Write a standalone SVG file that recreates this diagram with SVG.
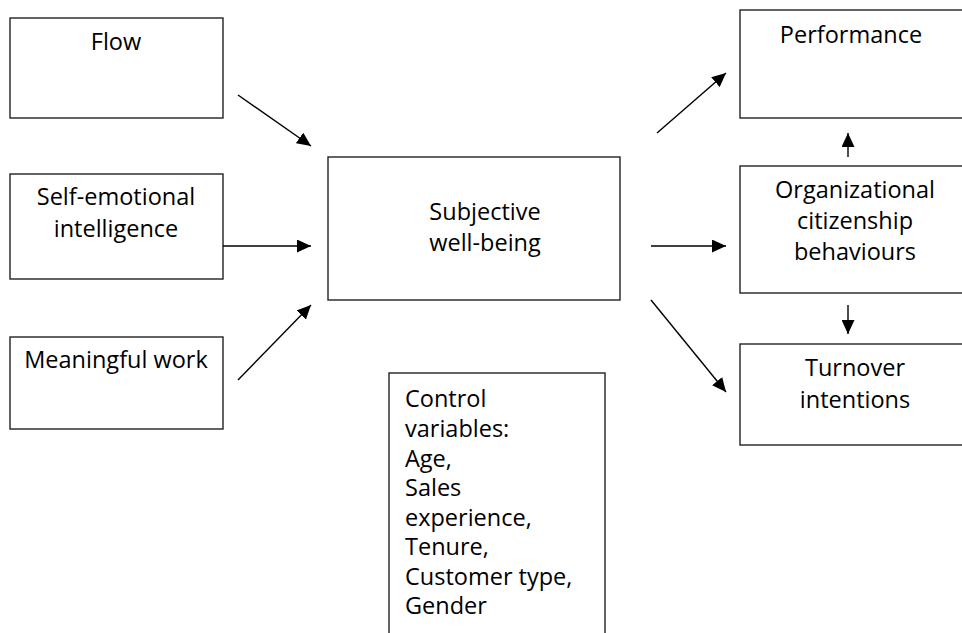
<svg xmlns="http://www.w3.org/2000/svg" width="962" height="633" viewBox="0 0 962 633">
<defs>
<style>
.box{fill:#fff;stroke:#222;stroke-width:1.4}
.t{font-family:"Open Sans","Liberation Sans",sans-serif;font-size:23.5px;fill:#000;text-anchor:middle}
.tl{font-family:"Open Sans","Liberation Sans",sans-serif;font-size:23.5px;fill:#000}
.c{stroke:#000;stroke-width:1.4;fill:none;marker-end:url(#ah)}
</style>
<marker id="ah" viewBox="0 0 14 13" refX="14" refY="6.5" markerWidth="14" markerHeight="13" markerUnits="userSpaceOnUse" orient="auto">
<path d="M0,0 L14,6.5 L0,13 z" fill="#000"/>
</marker>
</defs>
<rect width="962" height="633" fill="#fff"/>
<g id="flow"><rect class="box" x="10" y="18" width="213" height="100"/><text class="t" x="116" y="50">Flow</text></g>
<g id="sei"><rect class="box" x="10" y="174" width="213" height="105"/><text class="t" x="116" y="205">Self-emotional</text><text class="t" x="116" y="237">intelligence</text></g>
<g id="mw"><rect class="box" x="10" y="337" width="213" height="92"/><text class="t" x="116" y="368">Meaningful work</text></g>
<g id="swb"><rect class="box" x="328" y="157" width="292" height="143"/><text class="t" x="485" y="220">Subjective</text><text class="t" x="485" y="251">well-being</text></g>
<g id="ctrl"><rect class="box" x="389" y="373" width="216" height="280"/>
<text class="tl" x="405" y="407">Control</text>
<text class="tl" x="405" y="437">variables:</text>
<text class="tl" x="405" y="467">Age,</text>
<text class="tl" x="405" y="496">Sales</text>
<text class="tl" x="405" y="526">experience,</text>
<text class="tl" x="405" y="555">Tenure,</text>
<text class="tl" x="405" y="585">Customer type,</text>
<text class="tl" x="405" y="614">Gender</text>
</g>
<g id="perf"><rect class="box" x="740" y="10" width="230" height="108"/><text class="t" x="851" y="43">Performance</text></g>
<g id="ocb"><rect class="box" x="740" y="166" width="230" height="127"/><text class="t" x="855" y="198">Organizational</text><text class="t" x="855" y="229">citizenship</text><text class="t" x="855" y="260">behaviours</text></g>
<g id="ti"><rect class="box" x="740" y="344" width="230" height="101"/><text class="t" x="855" y="376">Turnover</text><text class="t" x="855" y="408">intentions</text></g>
<g id="connectors">
<line class="c" x1="238" y1="95" x2="311" y2="146"/>
<line class="c" x1="223" y1="246" x2="311" y2="246"/>
<line class="c" x1="238" y1="380" x2="311" y2="305"/>
<line class="c" x1="657" y1="133" x2="726" y2="73"/>
<line class="c" x1="651" y1="246" x2="726" y2="246"/>
<line class="c" x1="651" y1="300" x2="726" y2="392"/>
<line class="c" x1="848" y1="157" x2="848" y2="133"/>
<line class="c" x1="848" y1="305" x2="848" y2="334"/>
</g>
</svg>
